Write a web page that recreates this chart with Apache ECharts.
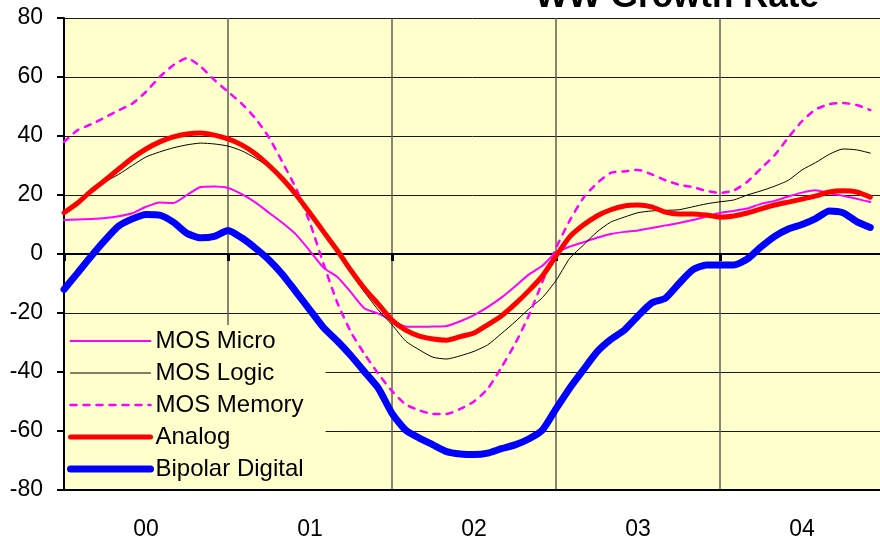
<!DOCTYPE html>
<html>
<head>
<meta charset="utf-8">
<script src="https://cdn.jsdelivr.net/npm/echarts@6/dist/echarts.min.js"></script>
<style>
  html, body { margin: 0; padding: 0; background: #fff; }
  #chart { width: 880px; height: 539px; }
</style>
</head>
<body>
<div id="chart"></div>
<script>
// year labels (one band of 12 months each)
const years = ['00', '01', '02', '03', '04']

// monthly growth rate, Jan 00 .. Dec 04
const mosMicro = [
  11.5, 11.7, 11.9, 12.2, 12.8, 13.8, 16, 17.5, 17.3, 20,
  22.7, 22.9, 22.4, 20.3, 17.5, 14, 10.5, 6.5, 1, -4.7,
  -7.8, -13, -18.5, -20.2, -22.5, -24.6, -24.7, -24.6, -24.4, -22.8,
  -20.7, -18, -14.8, -11, -7, -4, 0.5, 2.5, 4, 5.5,
  6.8, 7.5, 8, 8.8, 9.7, 10.5, 11.5, 12.7, 13.9, 14.6,
  15.4, 17, 18, 19.5, 20.8, 21.6, 20.6, 19.7, 18.7, 17.6
]
const mosLogic = [
  14, 18, 22, 24.5, 27, 30, 32.9, 34.6, 36, 37,
  37.6, 37.3, 36.6, 35, 32.5, 29.5, 25, 20, 14, 7,
  0.5, -6.4, -13, -19, -24, -29.5, -32.5, -35, -35.6, -34.5,
  -33, -30.8, -27, -23, -18.7, -14.8, -9, -1.5, 3, 7.5,
  10.8, 12.5, 14, 14.6, 14.8, 15, 16, 17, 17.7, 18.3,
  20, 21.4, 23, 25, 28.5, 31, 33.8, 35.6, 35.3, 34.2
]
const mosMemory = [
  38, 42, 44, 46.3, 48.7, 51, 55, 60, 64, 66.4,
  63.5, 59, 55, 51, 46, 39.5, 31, 22, 10.5, -3.5,
  -16.5, -26.5, -34, -40.6, -46.5, -51, -53, -54.2, -54.2, -52.5,
  -50, -45.7, -38.5, -30.5, -21, -9.5, 2, 11.3, 19, 24,
  27.5, 28, 28.5, 27, 25, 23.5, 22.7, 21.4, 20.7, 21.5,
  24.5, 29, 33.5, 39.5, 45, 49, 50.8, 51.2, 50.5, 48.8
]
const analog = [
  14, 17.3, 21.4, 25, 28.8, 32.5, 35.6, 38, 39.7, 40.7,
  41, 40.3, 39, 37, 34, 30, 25.4, 20, 13.8, 7.5,
  1.2, -5.6, -11.8, -17, -22.4, -25.8, -27.8, -28.8, -29.2, -28,
  -26.8, -24, -21, -17, -12.5, -7.5, -0.7, 5.8, 9.8, 12.9,
  15, 16.3, 16.6, 16, 14.2, 13.6, 13.6, 13.2, 12.5, 12.9,
  13.9, 15.3, 16.6, 17.6, 18.6, 19.7, 21, 21.4, 21, 19.3
]
const bipolarDigital = [
  -12, -6.4, -0.7, 4.7, 9.5, 11.9, 13.4, 13.2, 10.8, 7,
  5.5, 6, 8, 5.5, 2, -2, -7, -13, -19, -25,
  -29.5, -34.5, -40, -45.5, -54, -59.7, -62.4, -64.7, -67, -67.8,
  -68, -67.5, -66, -64.7, -62.7, -59.7, -52.5, -45.5, -39.3, -33.2,
  -29, -25.8, -21, -16.6, -15, -10, -5.4, -3.7, -3.7, -3.7,
  -1.7, 2.4, 6, 8.5, 10, 12, 14.6, 14, 11, 9
]

const font = '"Liberation Sans", Arial, sans-serif'
const myChart = echarts.init(document.getElementById('chart'))

// 月序号 -> [x, y]
const toPoints = (arr) => arr.map((v, i) => [i, v])

const makeLine = (name, data, color, width, type) => ({
  name,
  type: 'line',
  xAxisIndex: 0,
  data: toPoints(data),
  symbol: 'none',
  smooth: 0.2,
  lineStyle: { color, width, type: type || 'solid', cap: 'round', join: 'round' },
  itemStyle: { color }
})

myChart.setOption({
  animation: false,
  backgroundColor: '#fff',
  title: {
    text: 'WW Growth Rate',
    left: 530,
    top: -25,
    textStyle: { fontFamily: font, fontSize: 35, fontWeight: 'bold', color: '#000' }
  },
  grid: {
    left: 64,
    right: -4,
    top: 18,
    bottom: 49,
    containLabel: false,
    outerBoundsMode: 'none',
    show: true,
    backgroundColor: '#FFFFCC',
    borderWidth: 0
  },
  legend: {
    // 图例在网格线之上、曲线之下
    z: 1,
    orient: 'vertical',
    left: 65,
    top: 325,
    padding: [4, 22, 8, 2],
    backgroundColor: '#FFFFCC',
    itemWidth: 80,
    itemHeight: 14,
    itemGap: 8,
    itemStyle: { color: 'rgba(0,0,0,0)', borderWidth: 0, opacity: 0 },
    lineStyle: { width: 'inherit' },
    textStyle: { fontFamily: font, fontSize: 24, color: '#000' },
    data: ['MOS Micro', 'MOS Logic', 'MOS Memory', 'Analog', 'Bipolar Digital']
  },
  xAxis: [
    {
      // 年分隔线 + 零线
      type: 'value',
      min: 0,
      max: 60,
      interval: 12,
      position: 'bottom',
      axisLine: { show: true, onZero: true, lineStyle: { color: '#000', width: 2 } },
      axisTick: { show: true, length: 7, lineStyle: { color: '#000', width: 3 } },
      axisLabel: { show: false },
      splitLine: { show: true, lineStyle: { color: '#5e5e54', width: 1.5 } }
    },
    {
      type: 'category',
      z: 2,
      data: years,
      boundaryGap: true,
      position: 'bottom',
      axisLine: { show: true, onZero: false, lineStyle: { color: '#000', width: 2 } },
      axisTick: { show: false },
      axisLabel: { fontFamily: font, fontSize: 23, color: '#000', margin: 28 },
      splitLine: { show: false }
    }
  ],
  yAxis: {
    type: 'value',
    min: -80,
    max: 80,
    interval: 20,
    axisLine: { show: true, onZero: false, lineStyle: { color: '#000', width: 2 } },
    axisTick: { show: true, length: 7, lineStyle: { color: '#000', width: 2 } },
    axisLabel: { fontFamily: font, fontSize: 23, color: '#000', margin: 21 },
    splitLine: { show: true, lineStyle: { color: '#1a1a1a', width: 1 } }
  },
  series: [
    makeLine('MOS Micro', mosMicro, '#FF00FF', 2),
    makeLine('MOS Logic', mosLogic, '#000000', 1),
    makeLine('MOS Memory', mosMemory, '#FF00FF', 2.5, [6, 7]),
    makeLine('Analog', analog, '#FF0000', 5),
    makeLine('Bipolar Digital', bipolarDigital, '#0000FF', 7)
  ]
})
</script>
</body>
</html>
